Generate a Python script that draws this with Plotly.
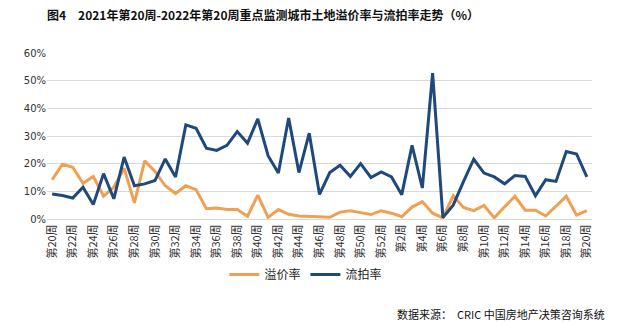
import plotly.graph_objects as go

weeks_2021 = [f"第{w}周" for w in range(20, 53)]
weeks_2022 = [f"第{w}周" for w in range(1, 21)]
week_labels = weeks_2021 + weeks_2022

premium_rate = [14.2, 19.8, 18.7, 12.9, 15.4, 8.3, 11.5, 18.4, 5.8, 21.0,
                17.2, 12.0, 9.2, 12.0, 10.6, 3.7, 4.0, 3.4, 3.4, 1.0,
                8.6, 0.6, 3.4, 1.7, 1.1, 1.0, 0.8, 0.6, 2.5, 3.0,
                2.3, 1.6, 3.0, 2.1, 0.8, 4.3, 6.3, 2.1, 0.4, 8.4,
                4.2, 3.0, 4.9, 0.4, 4.4, 8.2, 3.2, 3.2, 1.1, 4.6,
                8.2, 1.4, 3.0]
failure_rate = [9.0, 8.5, 7.6, 11.5, 5.2, 16.4, 7.3, 22.4, 12.0, 12.7,
                13.9, 21.7, 15.2, 34.0, 32.8, 25.6, 24.8, 26.6, 31.6, 27.4,
                36.2, 22.9, 16.6, 36.5, 16.8, 31.0, 8.9, 16.8, 19.4, 15.4,
                20.0, 15.0, 17.0, 15.2, 8.8, 26.6, 11.2, 52.7, 0.5, 5.0,
                13.5, 21.6, 16.6, 15.2, 12.7, 15.7, 15.4, 8.4, 14.2, 13.6,
                24.4, 23.5, 15.2]

y_ticks = [0, 10, 20, 30, 40, 50, 60]

idx = list(range(len(week_labels)))

fig = go.Figure()
fig.add_trace(go.Scatter(x=idx, y=premium_rate, mode="lines", name="溢价率",
                         line=dict(color="#F0A052", width=3)))
fig.add_trace(go.Scatter(x=idx, y=failure_rate, mode="lines", name="流拍率",
                         line=dict(color="#1F497D", width=3)))

font_cjk = "Noto Sans CJK SC"
fig.update_layout(
    width=623, height=324,
    margin=dict(l=47, r=31, t=53, b=105),
    paper_bgcolor="white", plot_bgcolor="white",
    showlegend=True,
    legend=dict(orientation="h", x=0.475, y=-0.335, xanchor="center", yanchor="middle",
                font=dict(family=font_cjk, size=12, color="#222"),
                itemwidth=30, tracegroupgap=0),
    xaxis=dict(range=[-0.5, len(idx) - 0.5], tickmode="array",
               tickvals=idx[::2], ticktext=week_labels[::2], tickangle=-90,
               tickfont=dict(family=font_cjk, size=11, color="#333"),
               showgrid=False, showline=True, linecolor="#D9D9D9", linewidth=1,
               ticks="", zeroline=False),
    yaxis=dict(range=[0, 60], tickmode="array", tickvals=y_ticks,
               ticktext=[f"{v}%" for v in y_ticks],
               tickfont=dict(family="DejaVu Sans", size=10, color="#333"),
               showgrid=True, gridcolor="#D9D9D9", gridwidth=1,
               zeroline=False, ticks="", ticklen=4),
    annotations=[
        dict(text="<b>图4　2021年第20周-2022年第20周重点监测城市土地溢价率与流拍率走势（%）</b>",
             xref="paper", yref="paper", x=-0.004, y=1.23, xanchor="left", yanchor="middle",
             showarrow=False, font=dict(family=font_cjk, size=12, color="#111")),
        dict(text="数据来源：  CRIC 中国房地产决策咨询系统",
             xref="paper", yref="paper", x=1.028, y=-0.572, xanchor="right", yanchor="middle",
             showarrow=False, font=dict(family=font_cjk, size=11, color="#111")),
    ],
)

fig.write_html("out.html")
